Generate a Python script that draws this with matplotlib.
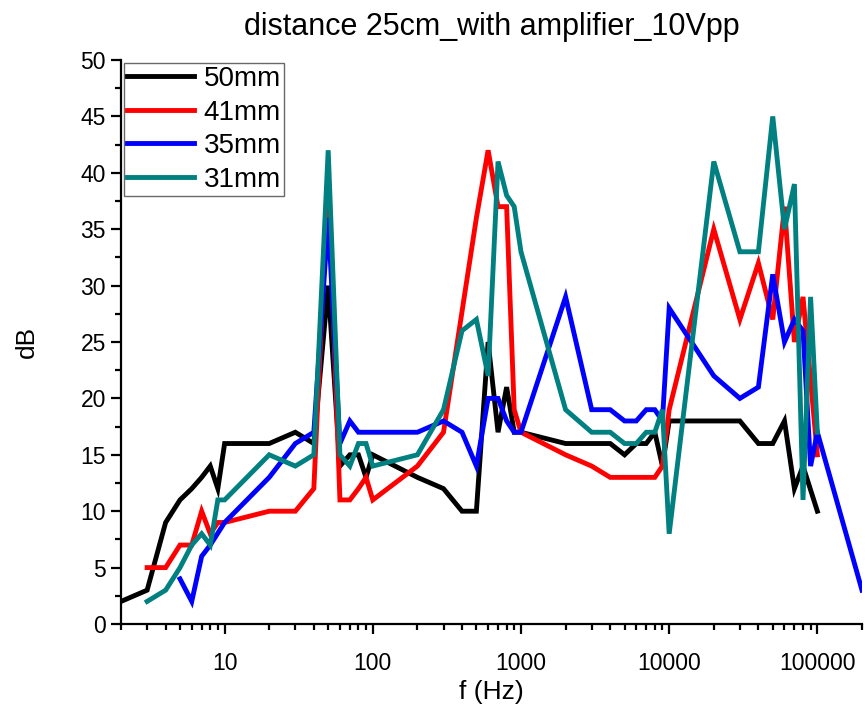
import matplotlib
matplotlib.use("Agg")
import matplotlib.pyplot as plt
from matplotlib.ticker import LogLocator, FuncFormatter, MultipleLocator, NullFormatter

plt.rcParams['font.family'] = ['Liberation Sans', 'DejaVu Sans']

# Measurements: frequency (Hz) and level (dB) for each element size
f_50mm = [2, 3, 4, 5, 6, 7, 8, 9, 10, 20, 30, 40, 50, 60, 70, 80, 90, 100, 200, 300, 400, 500,
          600, 700, 800, 900, 1000, 2000, 3000, 4000, 5000, 6000, 7000, 8000, 9000, 10000,
          20000, 30000, 40000, 50000, 60000, 70000, 80000, 100000]
db_50mm = [2, 3, 9, 11, 12, 13, 14, 12, 16, 16, 17, 16, 30, 14, 15, 15, 13, 15, 13, 12, 10, 10,
           25, 17, 21, 17, 17, 16, 16, 16, 15, 16, 16, 17, 14, 18,
           18, 18, 16, 16, 18, 12, 14, 10]

f_41mm = [3, 4, 5, 6, 7, 8, 9, 10, 20, 30, 40, 50, 60, 70, 80, 90, 100, 200, 300, 500,
          600, 700, 800, 900, 1000, 2000, 3000, 4000, 5000, 6000, 7000, 8000, 9000, 10000,
          20000, 30000, 40000, 50000, 60000, 70000, 80000, 100000]
db_41mm = [5, 5, 7, 7, 10, 8, 9, 9, 10, 10, 12, 40, 11, 11, 12, 13, 11, 14, 17, 36,
           42, 37, 37, 19, 17, 15, 14, 13, 13, 13, 13, 13, 14, 19,
           35, 27, 32, 27, 37, 25, 29, 15]

f_35mm = [5, 6, 7, 8, 10, 20, 30, 40, 50, 60, 70, 80, 90, 100, 200, 300, 400, 500,
          600, 700, 800, 900, 1000, 2000, 3000, 4000, 5000, 6000, 7000, 8000, 9000, 10000,
          20000, 30000, 40000, 50000, 60000, 70000, 80000, 90000, 100000, 200000]
db_35mm = [4, 2, 6, 7, 9, 13, 16, 17, 36, 16, 18, 17, 17, 17, 17, 18, 17, 14,
           20, 20, 18, 17, 17, 29, 19, 19, 18, 18, 19, 19, 18, 28,
           22, 20, 21, 31, 25, 27, 26, 14, 17, 3]

f_31mm = [3, 4, 5, 6, 7, 8, 9, 10, 20, 30, 40, 50, 60, 70, 80, 90, 100, 200, 300, 400, 500,
          600, 700, 800, 900, 1000, 2000, 3000, 4000, 5000, 6000, 7000, 8000, 9000, 10000,
          20000, 30000, 40000, 50000, 60000, 70000, 80000, 90000, 100000]
db_31mm = [2, 3, 5, 7, 8, 7, 11, 11, 15, 14, 15, 42, 15, 14, 16, 16, 14, 15, 19, 26, 27,
           22, 41, 38, 37, 33, 19, 17, 17, 16, 16, 17, 17, 19, 8,
           41, 33, 33, 45, 35, 39, 11, 29, 17]

series_labels = ['50mm', '41mm', '35mm', '31mm']
series_colors = ['#000000', '#FF0000', '#0000FF', '#008080']

fig = plt.figure(figsize=(8.67, 7.12), dpi=100)
ax = fig.add_axes([0.1396, 0.1236, 0.8546, 0.7921])

for (fx, dy), lab, col in zip([(f_50mm, db_50mm), (f_41mm, db_41mm),
                               (f_35mm, db_35mm), (f_31mm, db_31mm)],
                              series_labels, series_colors):
    ax.plot(fx, dy, color=col, lw=3.5, label=lab, solid_joinstyle='miter')

ax.set_xscale('log')
ax.set_xlim(2, 200000)
ax.set_ylim(0, 50)

ax.xaxis.set_major_locator(LogLocator(base=10, numticks=10))
ax.xaxis.set_minor_locator(LogLocator(base=10, subs=range(2, 10), numticks=20))
ax.xaxis.set_major_formatter(FuncFormatter(lambda v, p: f"{int(round(v))}"))
ax.xaxis.set_minor_formatter(NullFormatter())
ax.yaxis.set_major_locator(MultipleLocator(5))
ax.yaxis.set_minor_locator(MultipleLocator(2.5))

for s in ['top', 'right']:
    ax.spines[s].set_visible(False)
for s in ['left', 'bottom']:
    ax.spines[s].set_linewidth(1.6)

ax.tick_params(axis='both', which='major', direction='out', length=7, width=1.6,
               labelsize=16.5, pad=4)
ax.tick_params(axis='both', which='minor', direction='out', length=4, width=1.6)
ax.tick_params(axis='x', which='major', pad=13)

ax.set_xlabel('f (Hz)', fontsize=19, labelpad=4)
ax.set_ylabel('dB', fontsize=19, labelpad=30)
ax.set_title('distance 25cm_with amplifier_10Vpp', fontsize=22, pad=18)

leg = ax.legend(loc='upper left', bbox_to_anchor=(0.0, 1.0), fontsize=20,
                frameon=True, fancybox=False, handlelength=2.4, handletextpad=0.35,
                borderpad=0.12, labelspacing=0.27, borderaxespad=0.1)
leg.get_frame().set_edgecolor('#444444')
leg.get_frame().set_linewidth(1.0)
for h in leg.get_lines():
    h.set_linewidth(3.5)

fig.savefig('out.png', dpi=100)
